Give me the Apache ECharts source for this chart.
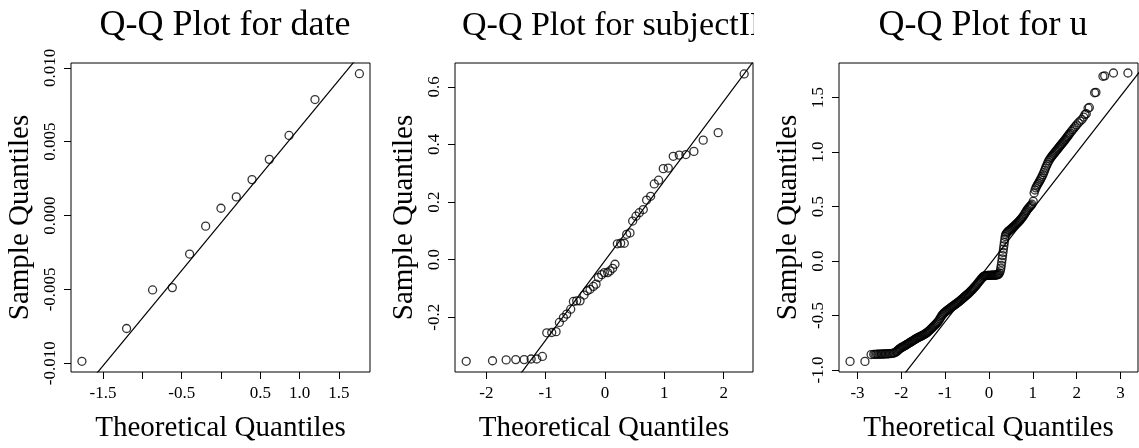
<!DOCTYPE html>
<html><head><meta charset="utf-8">
<script src="https://cdn.jsdelivr.net/npm/echarts@6/dist/echarts.min.js"></script>
<style>html,body{margin:0;padding:0;background:#fff}#c{width:1139px;height:448px}</style>
</head><body><div id="c"></div>
<script>
// ---- Panel 1: date ----
const dateX = [-1.769,-1.201,-0.870,-0.619,-0.399,-0.195,0.000,0.195,0.395,0.615,0.866,1.196,1.761];
const dateY = [-0.00987,-0.00765,-0.00504,-0.00488,-0.00261,-0.00072,0.00049,0.00126,0.00243,0.00380,0.00542,0.00785,0.00960];
const dateLine = [[-2,-0.013391],[2,0.012385]];
const dateXTicks = [-1.5,-1.0,-0.5,0,0.5,1.0,1.5];
const dateXLabels = [-1.5,-0.5,0.5,1.0,1.5];
const dateYTicks = [-0.010,-0.005,0.000,0.005,0.010];

// ---- Panel 2: subjectID ----
const subjX = [-2.339,-1.896,-1.666,-1.504,-1.363,-1.245,-1.150,-1.055,-0.982,-0.898,-0.825,-0.769,-0.701,-0.645,-0.578,-0.533,-0.477,-0.421,-0.353,-0.297,-0.252,-0.196,-0.151,-0.112,-0.056,-0.011,0.045,0.084,0.129,0.168,0.208,0.264,0.325,0.365,0.421,0.466,0.522,0.578,0.645,0.701,0.769,0.830,0.903,0.982,1.066,1.150,1.251,1.363,1.498,1.655,1.907,2.345];
const subjY = [-0.353,-0.351,-0.348,-0.347,-0.347,-0.345,-0.345,-0.336,-0.254,-0.253,-0.250,-0.218,-0.201,-0.189,-0.172,-0.145,-0.143,-0.143,-0.123,-0.108,-0.103,-0.093,-0.085,-0.062,-0.052,-0.045,-0.045,-0.039,-0.030,-0.016,0.055,0.057,0.057,0.088,0.093,0.134,0.151,0.163,0.174,0.207,0.220,0.263,0.276,0.316,0.318,0.359,0.363,0.365,0.376,0.415,0.441,0.645];
const subjLine = [[-3,-0.8325],[3,0.8265]];
const subjXTicks = [-2,-1,0,1,2];
const subjYTicks = [-0.2,0.0,0.2,0.4,0.6];

// ---- Panel 3: u (points read along the plotted band) ----
const uX = [-3.17,-2.83,-2.69,-2.63,-2.60,-2.57,-2.54,-2.51,-2.48,-2.45,-2.42,-2.39,-2.36,-2.33,-2.30,-2.27,-2.24,-2.21,-2.18,-2.15,-2.12,
 -2.10,-2.08,-2.06,-2.04,-2.02,-2.00,-1.98,-1.96,-1.94,-1.92,-1.90,-1.88,-1.86,-1.84,-1.82,-1.80,-1.78,-1.76,-1.74,-1.72,-1.70,-1.68,-1.66,-1.64,-1.62,-1.60,-1.58,-1.56,-1.54,-1.52,-1.50,
 -1.48,-1.46,-1.44,-1.42,-1.40,-1.38,-1.36,-1.34,-1.32,-1.30,-1.28,-1.26,-1.24,-1.22,-1.20,-1.18,-1.16,-1.14,-1.12,-1.10,-1.08,-1.06,-1.04,-1.02,-1.00,
 -0.98,-0.96,-0.94,-0.92,-0.90,-0.88,-0.86,-0.84,-0.82,-0.80,-0.78,-0.76,-0.74,-0.72,-0.70,-0.68,-0.66,-0.64,-0.62,-0.60,-0.58,-0.56,-0.54,-0.52,-0.50,
 -0.48,-0.46,-0.44,-0.42,-0.40,-0.38,-0.36,-0.34,-0.32,-0.30,-0.28,-0.26,-0.24,-0.22,-0.20,-0.18,-0.16,-0.14,-0.12,-0.10,-0.08,-0.06,-0.04,-0.02,
 0.00,0.02,0.04,0.06,0.08,0.10,0.12,0.14,0.16,0.18,0.20,0.22,0.24,0.26,0.27,0.28,0.29,0.30,0.31,0.32,0.33,0.34,0.35,0.36,0.37,0.38,0.40,0.42,0.44,0.46,0.48,0.50,
 0.52,0.54,0.56,0.58,0.60,0.62,0.64,0.66,0.68,0.70,0.72,0.74,0.76,0.78,0.80,0.82,0.84,0.86,0.88,0.90,0.92,0.94,0.96,0.98,1.01,
 1.03,1.05,1.07,1.09,1.11,1.13,1.15,1.17,1.19,1.21,1.23,1.25,1.27,1.29,1.31,1.33,1.35,1.37,1.39,1.41,1.43,1.45,1.47,1.49,1.51,
 1.53,1.55,1.57,1.59,1.61,1.63,1.65,1.67,1.69,1.71,1.73,1.75,1.77,1.79,1.81,1.83,1.85,1.88,1.91,1.94,1.97,2.00,2.04,2.08,2.12,2.16,2.19,2.22,2.26,2.29,2.41,2.44,2.60,2.64,2.84,3.17];
const uY = [-0.921,-0.921,-0.858,-0.856,-0.856,-0.856,-0.855,-0.855,-0.854,-0.854,-0.853,-0.853,-0.852,-0.852,-0.851,-0.850,-0.849,-0.848,-0.845,-0.841,-0.834,
 -0.828,-0.820,-0.812,-0.806,-0.800,-0.795,-0.790,-0.786,-0.781,-0.777,-0.772,-0.767,-0.762,-0.757,-0.752,-0.747,-0.742,-0.737,-0.732,-0.727,-0.722,-0.717,-0.712,-0.707,-0.703,-0.699,-0.695,-0.691,-0.687,-0.683,-0.679,
 -0.674,-0.669,-0.664,-0.658,-0.652,-0.645,-0.638,-0.630,-0.622,-0.614,-0.606,-0.598,-0.590,-0.582,-0.574,-0.565,-0.555,-0.543,-0.530,-0.516,-0.503,-0.492,-0.483,-0.475,-0.468,
 -0.461,-0.455,-0.449,-0.443,-0.437,-0.431,-0.425,-0.419,-0.413,-0.407,-0.401,-0.395,-0.389,-0.383,-0.377,-0.371,-0.364,-0.357,-0.350,-0.343,-0.336,-0.329,-0.322,-0.315,-0.308,
 -0.301,-0.294,-0.286,-0.278,-0.270,-0.262,-0.253,-0.244,-0.235,-0.226,-0.216,-0.206,-0.196,-0.186,-0.176,-0.166,-0.156,-0.147,-0.140,-0.136,-0.134,-0.133,-0.132,-0.132,
 -0.131,-0.131,-0.131,-0.130,-0.130,-0.130,-0.129,-0.129,-0.128,-0.127,-0.125,-0.120,-0.110,-0.090,-0.065,-0.040,-0.010,0.020,0.050,0.080,0.110,0.140,0.170,0.200,0.225,0.243,0.256,0.265,0.273,0.280,0.287,0.294,
 0.301,0.308,0.315,0.322,0.330,0.338,0.346,0.354,0.362,0.371,0.380,0.390,0.400,0.411,0.423,0.436,0.450,0.463,0.475,0.485,0.494,0.503,0.512,0.522,0.548,
 0.625,0.652,0.672,0.688,0.702,0.716,0.730,0.745,0.760,0.776,0.793,0.812,0.832,0.853,0.872,0.890,0.908,0.924,0.937,0.949,0.960,0.970,0.980,0.990,1.000,
 1.010,1.020,1.030,1.040,1.050,1.060,1.070,1.080,1.090,1.100,1.110,1.120,1.131,1.142,1.153,1.164,1.175,1.190,1.205,1.220,1.235,1.250,1.268,1.285,1.300,1.322,1.345,1.352,1.403,1.410,1.545,1.548,1.696,1.700,1.726,1.726];
const uLine = [[-4,-2.1058],[4,2.0286]];
const uXTicks = [-3,-2,-1,0,1,2,3];
const uYTicks = [-1.0,-0.5,0.0,0.5,1.0,1.5];

const titles = ['Q-Q Plot for date','Q-Q Plot for subjectID','Q-Q Plot for u'];
const xName = 'Theoretical Quantiles';
const yName = 'Sample Quantiles';

const FONT = '"Liberation Serif", "DejaVu Serif", serif';
const zip = (a,b) => a.map((v,i)=>[v,b[i]]);

const panels = [
  {grid:{left:71, top:63, width:299, height:310}, xr:[-1.908,1.896], yr:[-0.010594,0.010324],
   xt:dateXTicks, xl:dateXLabels, yt:dateYTicks, xd:1, yd:3, pts:zip(dateX,dateY), line:dateLine,
   title:{x:225, align:'center', size:36}},
  {grid:{left:455, top:63, width:298, height:310}, xr:[-2.528,2.494], yr:[-0.3901,0.6829],
   xt:subjXTicks, xl:subjXTicks, yt:subjYTicks, xd:0, yd:1, pts:zip(subjX,subjY), line:subjLine,
   title:{x:462, align:'left', size:34}},
  {grid:{left:839, top:63, width:299, height:310}, xr:[-3.422,3.400], yr:[-1.0183,1.8179],
   xt:uXTicks, xl:uXTicks, yt:uYTicks, xd:0, yd:1, pts:zip(uX,uY), line:uLine,
   title:{x:983, align:'center', size:36}}
];

const grid=[], xAxis=[], yAxis=[], series=[], graphic=[];
panels.forEach((p,i)=>{
  grid.push(Object.assign({show:true, borderColor:'#000', borderWidth:1, backgroundColor:'transparent'}, p.grid));
  xAxis.push({type:'value', gridIndex:i, min:p.xr[0], max:p.xr[1], position:'bottom',
    name:xName, nameLocation:'middle', nameGap:42,
    nameTextStyle:{fontFamily:FONT, fontSize:29, color:'#000'},
    axisLine:{show:false, onZero:false}, splitLine:{show:false},
    axisTick:{show:true, inside:false, length:7, customValues:p.xt, lineStyle:{color:'#000', width:1}},
    axisLabel:{show:true, customValues:p.xl, margin:13, fontFamily:FONT, fontSize:17, color:'#000',
      formatter:(v)=>Number(v).toFixed(p.xd)}
  });
  yAxis.push({type:'value', gridIndex:i, min:p.yr[0], max:p.yr[1], position:'left',
    name:yName, nameLocation:'middle', nameGap:36, nameRotate:90,
    nameTextStyle:{fontFamily:FONT, fontSize:29, color:'#000'},
    axisLine:{show:false, onZero:false}, splitLine:{show:false},
    axisTick:{show:true, inside:false, length:7, customValues:p.yt, lineStyle:{color:'#000', width:1}},
    axisLabel:{show:true, customValues:p.yt, rotate:90, margin:12, fontFamily:FONT, fontSize:17, color:'#000',
      formatter:(v)=>Number(v).toFixed(p.yd)}
  });
  series.push({type:'line', xAxisIndex:i, yAxisIndex:i, data:p.line, symbol:'none', clip:true,
    lineStyle:{color:'#000', width:1.2}, silent:true, z:2});
  series.push({type:'scatter', xAxisIndex:i, yAxisIndex:i, data:p.pts, symbol:'circle', symbolSize:8,
    itemStyle:{color:'rgba(0,0,0,0)', borderColor:'#000', borderWidth:1.3}, clip:false, z:3, silent:true});
  graphic.push({type:'text', x:p.title.x, y:26, z:10, style:{text:titles[i], font:p.title.size+'px '+FONT, fill:'#000', textAlign:p.title.align, textVerticalAlign:'middle'}});
});
// panel 2's title is clipped at its panel edge in the reference
graphic.push({type:'rect', shape:{x:754, y:0, width:80, height:55}, style:{fill:'#fff'}, z:20});

const chart = echarts.init(document.getElementById('c'), null, {renderer:'canvas'});
chart.setOption({animation:false, backgroundColor:'#fff', grid, xAxis, yAxis, series, graphic});
</script>
</body></html>
